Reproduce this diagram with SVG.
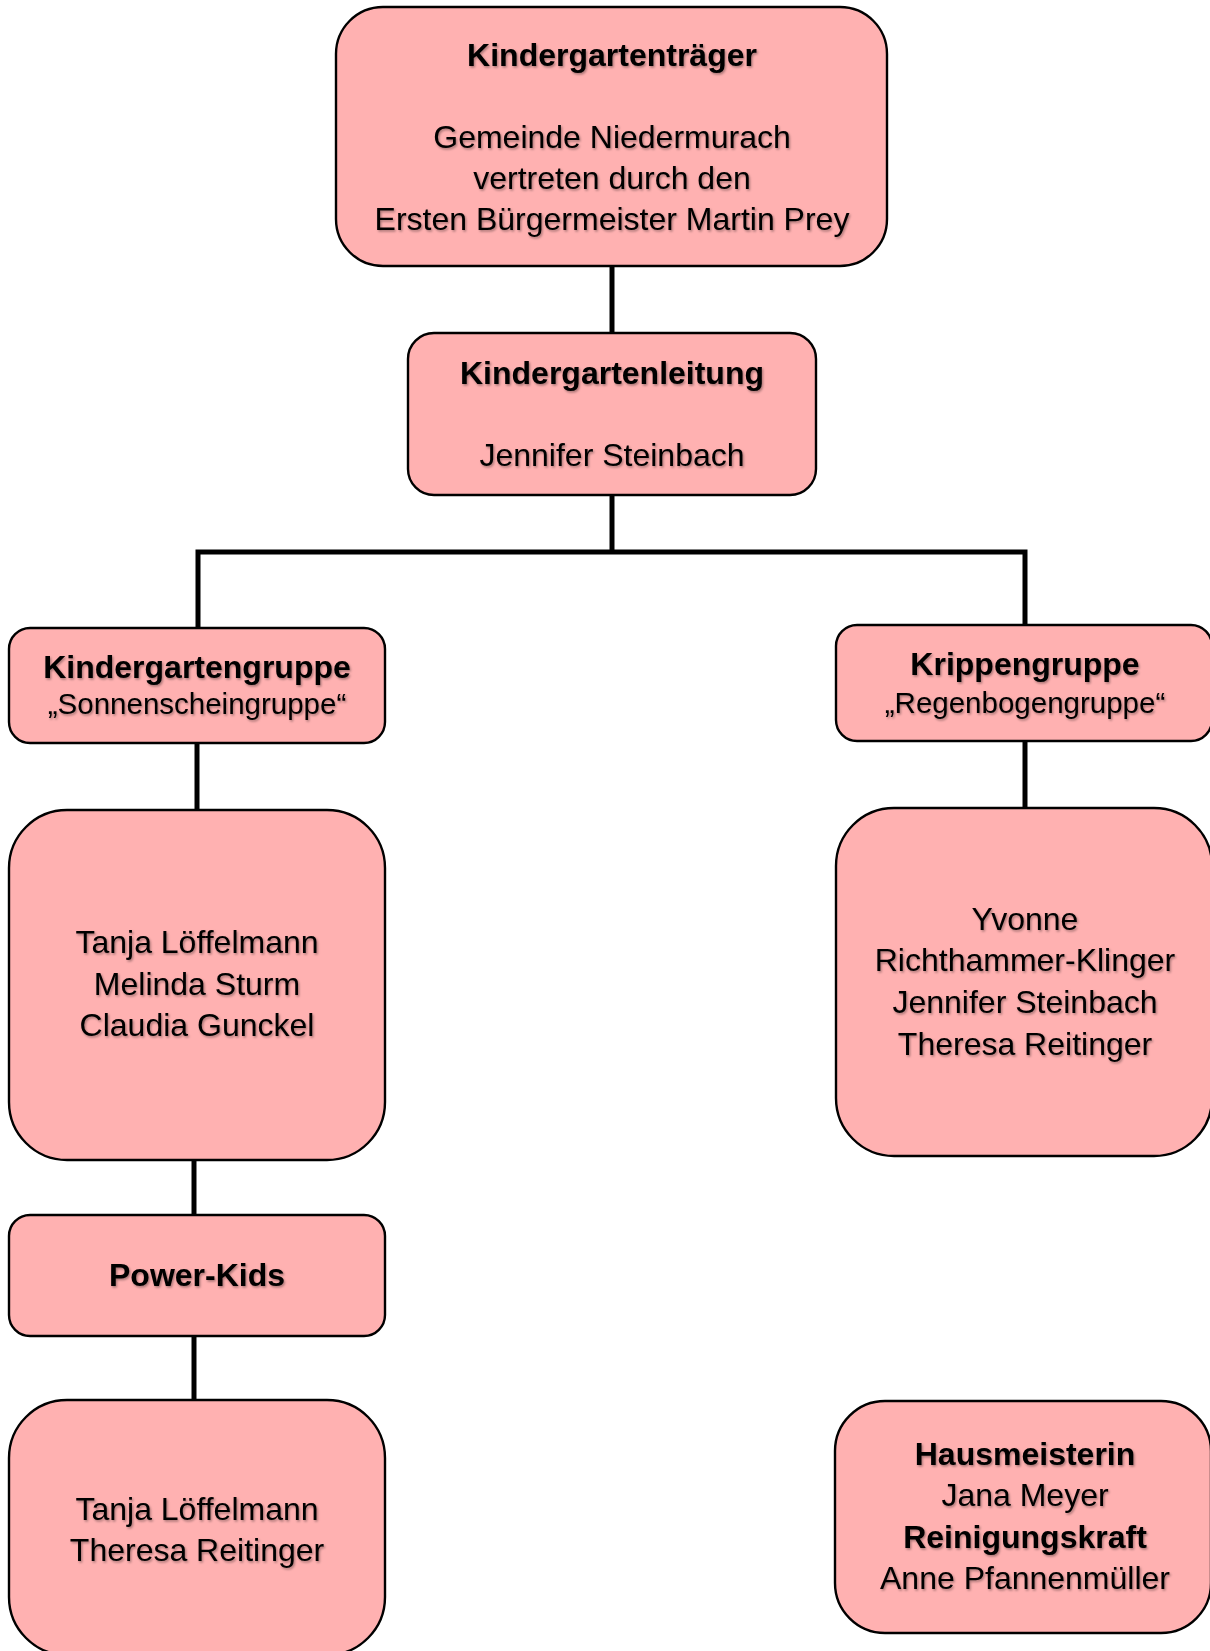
<svg xmlns="http://www.w3.org/2000/svg" width="1210" height="1651" viewBox="0 0 1210 1651">
<defs>
<style>
.box{fill:#FFB1B1;stroke:#000;stroke-width:2.4}
.t{font-family:"Liberation Sans",Arial,sans-serif;font-size:32px;fill:#000;text-anchor:middle;filter:url(#sh)}
.b{font-weight:bold}
.s{font-size:29.5px}
.c{stroke:#000;stroke-width:5;fill:none}
</style>
<filter id="sh" x="-5%" y="-20%" width="110%" height="150%">
<feDropShadow dx="1.2" dy="1.6" stdDeviation="1" flood-color="#000" flood-opacity="0.35"/>
</filter>
</defs>
<rect width="1210" height="1651" fill="#fff"/>
<g id="connectors">
<path class="c" d="M612 266V333"/>
<path class="c" d="M612 495V552"/>
<path class="c" d="M198 628V552H1025V625"/>
<path class="c" d="M197 743V810"/>
<path class="c" d="M1025 741V808"/>
<path class="c" d="M194 1160V1215"/>
<path class="c" d="M194 1336V1400"/>
</g>
<g id="traeger">
<rect class="box" x="336" y="7" width="551" height="259" rx="47"/>
<text class="t b" x="612" y="66">Kindergartenträger</text>
<text class="t" x="612" y="148">Gemeinde Niedermurach</text>
<text class="t" x="612" y="189">vertreten durch den</text>
<text class="t" x="612" y="230">Ersten Bürgermeister Martin Prey</text>
</g>
<g id="leitung">
<rect class="box" x="408" y="333" width="408" height="162" rx="26"/>
<text class="t b" x="612" y="384">Kindergartenleitung</text>
<text class="t" x="612" y="466">Jennifer Steinbach</text>
</g>
<g id="kigagruppe">
<rect class="box" x="9" y="628" width="376" height="115" rx="21"/>
<text class="t b" x="197" y="678">Kindergartengruppe</text>
<text class="t s" x="197" y="714">„Sonnenscheingruppe“</text>
</g>
<g id="krippengruppe">
<rect class="box" x="836" y="625" width="376" height="116" rx="21"/>
<text class="t b" x="1025" y="675">Krippengruppe</text>
<text class="t s" x="1025" y="713">„Regenbogengruppe“</text>
</g>
<g id="kigateam">
<rect class="box" x="9" y="810" width="376" height="350" rx="58"/>
<text class="t" x="197" y="953">Tanja Löffelmann</text>
<text class="t" x="197" y="995">Melinda Sturm</text>
<text class="t" x="197" y="1036">Claudia Gunckel</text>
</g>
<g id="krippenteam">
<rect class="box" x="836" y="808" width="376" height="348" rx="58"/>
<text class="t" x="1025" y="930">Yvonne</text>
<text class="t" x="1025" y="971">Richthammer-Klinger</text>
<text class="t" x="1025" y="1013">Jennifer Steinbach</text>
<text class="t" x="1025" y="1055">Theresa Reitinger</text>
</g>
<g id="powerkids">
<rect class="box" x="9" y="1215" width="376" height="121" rx="21"/>
<text class="t b" x="197" y="1286">Power-Kids</text>
</g>
<g id="powerkidsteam">
<rect class="box" x="9" y="1400" width="376" height="255" rx="58"/>
<text class="t" x="197" y="1520">Tanja Löffelmann</text>
<text class="t" x="197" y="1561">Theresa Reitinger</text>
</g>
<g id="haus">
<rect class="box" x="835" y="1401" width="376" height="232" rx="50"/>
<text class="t b" x="1025" y="1465">Hausmeisterin</text>
<text class="t" x="1025" y="1506">Jana Meyer</text>
<text class="t b" x="1025" y="1548">Reinigungskraft</text>
<text class="t" x="1025" y="1589">Anne Pfannenmüller</text>
</g>
</svg>
